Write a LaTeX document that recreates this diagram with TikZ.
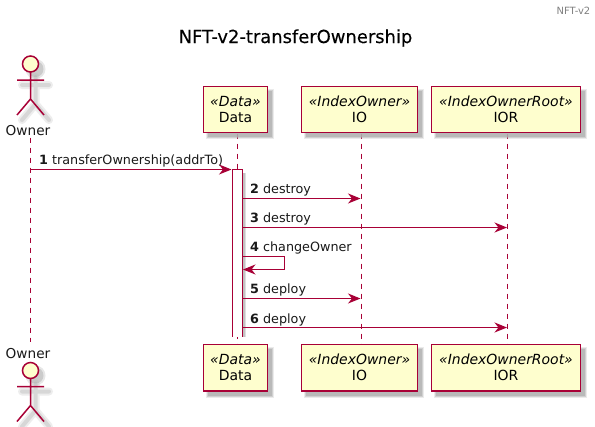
\documentclass[tikz,border=0pt]{standalone}
\usepackage{fontspec}
\setmainfont{DejaVu Sans}
\newfontfamily\titlefont[FakeBold=0.25]{DejaVu Sans}
\usetikzlibrary{arrows.meta}
\definecolor{pline}{HTML}{A80036}
\definecolor{pfill}{HTML}{FEFECE}
\definecolor{pshadow}{HTML}{B0B0B0}
\tikzset{
  x=1bp,y=-1bp,
  lbl/.style={inner sep=0pt,anchor=base west,font=\fontsize{12.8}{15}\selectfont,text=black!90},
  partbox/.style={draw=pline,fill=pfill,line width=1.5bp,inner sep=0pt,align=center,minimum height=46bp,font=\fontsize{14}{17}\selectfont,text=black},
  lifeline/.style={draw=pline,line width=1bp,dash pattern=on 5bp off 5bp},
  msg/.style={draw=pline,line width=1bp,-{Stealth[length=12.5bp,width=10bp,inset=4bp,fill=pline]}},
  actorlabel/.style={inner sep=0pt,anchor=base,font=\fontsize{13.7}{17}\selectfont,text=black!90},
}
\newcommand{\stereo}[2]{\textit{«#1»}\\[-1pt]#2}
\newcommand{\softshadow}[4]{%
  \fill[pshadow,opacity=.25] (#1+2,#2+2) rectangle (#3+6.5,#4+6.5);
  \fill[pshadow,opacity=.45] (#1+3,#2+3) rectangle (#3+5.5,#4+5.5);
  \fill[pshadow,opacity=.7] (#1+4,#2+4) rectangle (#3+4.5,#4+4.5);
}
\newcommand{\actorshape}{%
  (0,8) -- (0,35) (-13.5,16) -- (13.5,16) (0,35) -- (-13.5,51) (0,35) -- (13.5,51)}
\newcommand{\actorfig}[2]{%
  \begin{scope}[shift={(#1,#2)}]
    \begin{scope}[shift={(5,5)},draw=pshadow,fill=pshadow,line cap=round]
      \fill[opacity=.3] (0,0) circle[radius=10];
      \fill[opacity=.5] (0,0) circle[radius=8];
      \draw[line width=8bp,opacity=.22] \actorshape;
      \draw[line width=4bp,opacity=.35] \actorshape;
    \end{scope}
    \draw[pline,line width=1.5bp,fill=pfill] (0,0) circle[radius=8];
    \draw[pline,line width=1.5bp] \actorshape;
  \end{scope}}
\begin{document}
\begin{tikzpicture}
\useasboundingbox (0,0) rectangle (595,426);
\fill[white] (0,0) rectangle (595,426);

\node[inner sep=0pt,anchor=base east,font=\fontsize{10}{12}\selectfont,text=black!50] (hdr) at (590.5,14) {NFT-v2};
\node[inner sep=0pt,anchor=base,font=\titlefont\fontsize{18}{22}\selectfont,text=black] (title) at (295.5,43) {NFT-v2-transferOwnership};

% lifeline ends
\coordinate (oA) at (30.5,137.5);
\coordinate (oB) at (30.5,342);
\coordinate (dA) at (237.5,133.5);
\coordinate (dB) at (237.5,344);
\coordinate (iA) at (361.5,133.5);
\coordinate (iB) at (361.5,344);
\coordinate (rA) at (507.5,133.5);
\coordinate (rB) at (507.5,344);
\draw[lifeline] (oA) -- (oB);
\draw[lifeline] (dA) -- (dB);
\draw[lifeline] (iA) -- (iB);
\draw[lifeline] (rA) -- (rB);

% shadows
\softshadow{203.5}{86.5}{267.5}{132.5}
\softshadow{301.5}{86.5}{417.5}{132.5}
\softshadow{431.5}{86.5}{580.5}{132.5}
\softshadow{203.5}{344.5}{267.5}{391}
\softshadow{301.5}{344.5}{417.5}{391}
\softshadow{431.5}{344.5}{580.5}{391}

% participants
\actorfig{30.5}{64}
\actorfig{30.5}{370.5}
\node[actorlabel] (ownerT) at (28,135) {Owner};
\node[actorlabel] (ownerB) at (28,358) {Owner};
\node[partbox,minimum width=64bp] (dataT) at (235.5,109.5) {\stereo{Data}{Data}};
\node[partbox,minimum width=116bp] (ioT) at (359.5,109.5) {\stereo{IndexOwner}{IO}};
\node[partbox,minimum width=149bp] (iorT) at (506,109.5) {\stereo{IndexOwnerRoot}{IOR}};
\node[partbox,minimum width=64bp,minimum height=46.5bp] (dataB) at (235.5,367.75) {\stereo{Data}{Data}};
\node[partbox,minimum width=116bp,minimum height=46.5bp] (ioB) at (359.5,367.75) {\stereo{IndexOwner}{IO}};
\node[partbox,minimum width=149bp,minimum height=46.5bp] (iorB) at (506,367.75) {\stereo{IndexOwnerRoot}{IOR}};

% activation
\fill[white] (232.5,169.5) rectangle (242.5,336.5);
\fill[pshadow,opacity=.4] (242.5,173) rectangle (246,336.5);
\fill[pshadow,opacity=.6] (242.5,173) rectangle (244.5,336.5);
\draw[pline,line width=1.2bp] (232.5,336.5) -- (232.5,169.5) -- (242.5,169.5) -- (242.5,336.5);

% messages
\coordinate (m1a) at (30.5,169.5); \coordinate (m1b) at (231.5,169.5);
\coordinate (m2a) at (243,198.5);  \coordinate (m2b) at (360.5,198.5);
\coordinate (m3a) at (243,227.5);  \coordinate (m3b) at (507,227.5);
\coordinate (m4a) at (243,256.5);  \coordinate (m4c) at (284.5,256.5);
\coordinate (m4d) at (284.5,269.5);\coordinate (m4b) at (243,269.5);
\coordinate (m5a) at (243,298.5);  \coordinate (m5b) at (360.5,298.5);
\coordinate (m6a) at (243,327.5);  \coordinate (m6b) at (507,327.5);
\draw[msg] (m1a) -- (m1b);
\draw[msg] (m2a) -- (m2b);
\draw[msg] (m3a) -- (m3b);
\draw[msg] (m4a) -- (m4c) -- (m4d) -- (m4b);
\draw[msg] (m5a) -- (m5b);
\draw[msg] (m6a) -- (m6b);

\node[lbl] (l1) at (39,164) {\textbf{1} transferOwnership(addrTo)};
\node[lbl] (l2) at (250,193) {\textbf{2} destroy};
\node[lbl] (l3) at (250,222) {\textbf{3} destroy};
\node[lbl] (l4) at (250,251) {\textbf{4} changeOwner};
\node[lbl] (l5) at (250,293) {\textbf{5} deploy};
\node[lbl] (l6) at (250,323) {\textbf{6} deploy};
\end{tikzpicture}
\end{document}
